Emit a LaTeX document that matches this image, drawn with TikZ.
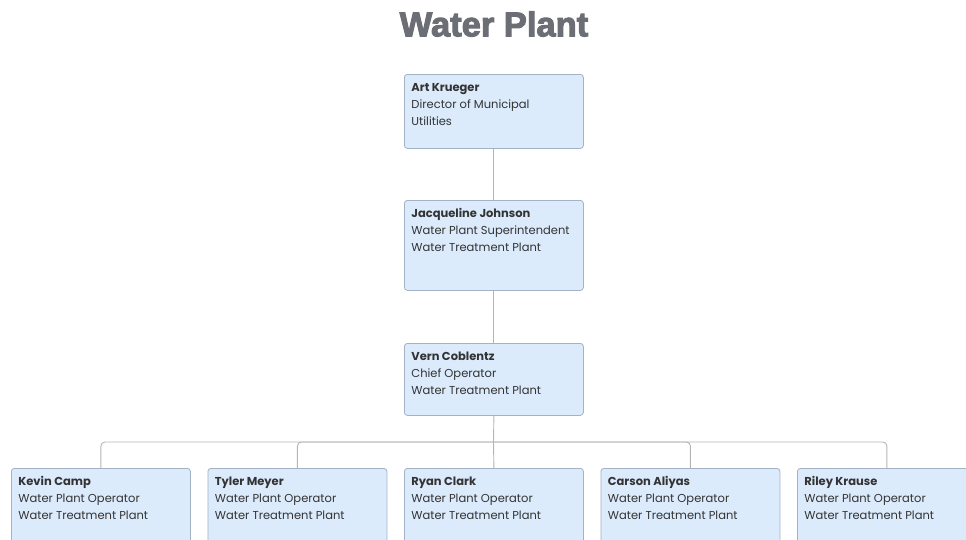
\documentclass[tikz,border=0pt]{standalone}
\usepackage{fontspec}
\setmainfont{Poppins}
\newfontfamily\titlefont[FakeBold=3]{Liberation Sans Bold}
\definecolor{boxfill}{HTML}{DBEBFC}
\definecolor{boxline}{HTML}{A3B2C4}
\definecolor{connline}{HTML}{B4B4B4}
\definecolor{titlegray}{HTML}{6B6F75}
\definecolor{txt}{HTML}{333333}
\tikzset{
  person/.style={draw=boxline, line width=0.8pt, fill=boxfill, rounded corners=3pt,
    anchor=north west, inner xsep=7pt, inner ysep=5pt,
    font=\fontsize{11.5pt}{17pt}\selectfont, text=txt},
  conn/.style={draw=connline, line width=0.9pt, rounded corners=4pt}
}
\newcommand{\pcard}[4]{\parbox[c][#1][t]{165pt}{\raggedright\strut\textbf{#2}\\#3\\#4}}
\begin{document}
\begin{tikzpicture}[x=1pt,y=-1pt]
\useasboundingbox (0,0) rectangle (966,539);
\clip (0,0) rectangle (966,539);
\node[font=\titlefont\fontsize{34.5pt}{38pt}\selectfont, text=titlegray] (title) at (494,24) {Water Plant};

\node[person] (art) at (404,74) {\pcard{64pt}{Art Krueger}{Director of Municipal}{Utilities}};
\node[person] (jac) at (404,200) {\pcard{80pt}{Jacqueline Johnson}{Water Plant Superintendent}{Water Treatment Plant}};
\node[person] (vern) at (404,343) {\pcard{62pt}{Vern Coblentz}{Chief Operator}{Water Treatment Plant}};

\node[person] (kevin) at (11,468) {\pcard{80pt}{Kevin Camp}{Water Plant Operator}{Water Treatment Plant}};
\node[person] (tyler) at (207.5,468) {\pcard{80pt}{Tyler Meyer}{Water Plant Operator}{Water Treatment Plant}};
\node[person] (ryan) at (404,468) {\pcard{80pt}{Ryan Clark}{Water Plant Operator}{Water Treatment Plant}};
\node[person] (carson) at (600.5,468) {\pcard{80pt}{Carson Aliyas}{Water Plant Operator}{Water Treatment Plant}};
\node[person] (riley) at (797,468) {\pcard{80pt}{Riley Krause}{Water Plant Operator}{Water Treatment Plant}};

\draw[conn] (art.south) -- (jac.north);
\draw[conn] (jac.south) -- (vern.north);
\coordinate (bus) at (493.5,442);
\draw[conn] (vern.south) -- (bus);
\draw[conn] (bus) -| (kevin.north);
\draw[conn] (bus) -| (tyler.north);
\draw[conn] (bus) -- (ryan.north);
\draw[conn] (bus) -| (carson.north);
\draw[conn] (bus) -| (riley.north);
\end{tikzpicture}
\end{document}
